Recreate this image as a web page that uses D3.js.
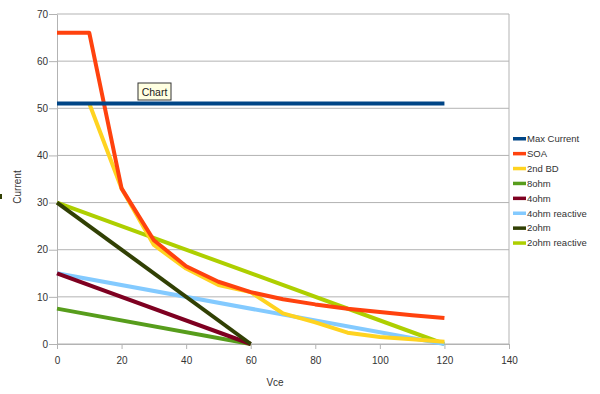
<!DOCTYPE html>
<html>
<head>
<meta charset="utf-8">
<script src="https://cdn.jsdelivr.net/npm/d3@7"></script>
<style>
  body { margin: 0; background: #fff; }
  text { font-family: "Liberation Sans", Arial, sans-serif; }
</style>
</head>
<body>
<svg id="chart"></svg>
<script>
const width = 600, height = 394;
const margin = { top: 14, right: 91, bottom: 50, left: 57 };

// x values shared by the curves (Vce)
const vceSteps = [0, 10, 20, 30, 40, 50, 60, 70, 80, 90, 100, 110, 120];
const soaValues = [66, 66, 33, 22, 16.5, 13.2, 11, 9.5, 8.4, 7.5, 6.8, 6.1, 5.5];
const bdSteps = [10, 20, 30, 40, 50, 60, 70, 80, 90, 100, 110, 120];
const bdValues = [51, 33, 21, 16, 12.5, 11, 6.5, 4.6, 2.4, 1.5, 1, 0.5];

const seriesNames = ["Max Current", "SOA", "2nd BD", "8ohm", "4ohm", "4ohm reactive", "2ohm", "2ohm reactive"];
const seriesColors = ["#004586", "#ff420e", "#ffd320", "#579d1c", "#7e0021", "#83caff", "#314004", "#aecf00"];

const series = [
  { name: "Max Current", pts: [[0, 51], [120, 51]] },
  { name: "SOA", pts: vceSteps.map((v, i) => [v, soaValues[i]]) },
  { name: "2nd BD", pts: bdSteps.map((v, i) => [v, bdValues[i]]) },
  { name: "8ohm", pts: [[0, 7.5], [60, 0]] },
  { name: "4ohm", pts: [[0, 15], [60, 0]] },
  { name: "4ohm reactive", pts: [[0, 15], [120, 0]] },
  { name: "2ohm", pts: [[0, 30], [60, 0]] },
  { name: "2ohm reactive", pts: [[0, 30], [120, 0]] }
];
// draw order as in the picture (later on top)
const drawOrder = ["2ohm reactive", "4ohm reactive", "2nd BD", "SOA", "8ohm", "4ohm", "2ohm", "Max Current"];

const xTicks = [0, 20, 40, 60, 80, 100, 120, 140];
const yTicks = [0, 10, 20, 30, 40, 50, 60, 70];

const innerW = width - margin.left - margin.right;
const innerH = height - margin.top - margin.bottom;

let svg = d3.select("svg#chart")
  .attr("width", width)
  .attr("height", height);

let g = svg.append("g")
  .attr("transform", `translate(${margin.left},${margin.top})`);

let xScale = d3.scaleLinear().domain([0, 140]).range([0, innerW]);
let yScale = d3.scaleLinear().domain([0, 70]).range([innerH, 0]);
const color = d3.scaleOrdinal(seriesNames, seriesColors);

// grid lines
g.append("g")
  .selectAll("line")
  .data(yTicks)
  .join("line")
  .attr("x1", 0).attr("x2", innerW)
  .attr("y1", d => yScale(d)).attr("y2", d => yScale(d))
  .attr("stroke", "#b3b3b3")
  .attr("stroke-width", 1);

g.append("line")
  .attr("x1", innerW).attr("x2", innerW)
  .attr("y1", 0).attr("y2", innerH)
  .attr("stroke", "#b3b3b3");

// axes
let xAxisG = g.append("g")
  .attr("transform", `translate(0,${innerH})`)
  .call(d3.axisBottom(xScale).tickValues(xTicks).tickSize(5).tickSizeOuter(0));
let yAxisG = g.append("g")
  .call(d3.axisLeft(yScale).tickValues(yTicks).tickSize(8).tickSizeOuter(0));

[xAxisG, yAxisG].forEach(a => {
  a.select(".domain").attr("stroke", "#b3b3b3");
  a.selectAll(".tick line").attr("stroke", "#b3b3b3");
  a.selectAll(".tick text")
    .attr("fill", "#333")
    .style("font-size", "10px")
    .style("font-family", "Liberation Sans, Arial, sans-serif");
});
xAxisG.selectAll(".tick text").attr("y", 9).attr("dy", "1.1em");
yAxisG.selectAll(".tick text").attr("x", -9);

// lines
const line = d3.line()
  .x(d => xScale(d[0]))
  .y(d => yScale(d[1]));

g.append("g")
  .selectAll("path")
  .data(drawOrder.map(n => series.find(s => s.name === n)))
  .join("path")
  .attr("d", d => line(d.pts))
  .attr("fill", "none")
  .attr("stroke", d => color(d.name))
  .attr("stroke-width", 4)
  .attr("stroke-linejoin", "round");

// axis titles
svg.append("text")
  .attr("transform", `translate(21,187) rotate(-90)`)
  .attr("text-anchor", "middle")
  .attr("fill", "#333")
  .style("font-size", "10px")
  .text("Current");

svg.append("text")
  .attr("x", 275)
  .attr("y", 386)
  .attr("text-anchor", "middle")
  .attr("fill", "#333")
  .style("font-size", "10px")
  .text("Vce");

// legend
let legend = svg.append("g")
  .attr("transform", "translate(513,138.5)");

let item = legend.selectAll("g")
  .data(seriesNames)
  .join("g")
  .attr("transform", (d, i) => `translate(0,${i * 14.9})`);

item.append("rect")
  .attr("x", 0).attr("y", -1.5)
  .attr("width", 13).attr("height", 3.5)
  .attr("fill", d => color(d));

item.append("text")
  .attr("x", 14)
  .attr("y", 3.5)
  .attr("fill", "#333")
  .style("font-size", "9.5px")
  .text(d => d);

// tooltip label
let tip = svg.append("g").attr("transform", "translate(138,83)");
tip.append("rect")
  .attr("width", 33).attr("height", 17)
  .attr("fill", "#ffffe1")
  .attr("stroke", "#333")
  .attr("stroke-width", 1);
tip.append("text")
  .attr("x", 16.5).attr("y", 12.5)
  .attr("text-anchor", "middle")
  .attr("fill", "#222")
  .style("font-size", "10.5px")
  .text("Chart");

// small mark at the left edge
svg.append("rect")
  .attr("x", 0).attr("y", 194)
  .attr("width", 2).attr("height", 5)
  .attr("fill", "#314004");
</script>
</body>
</html>
